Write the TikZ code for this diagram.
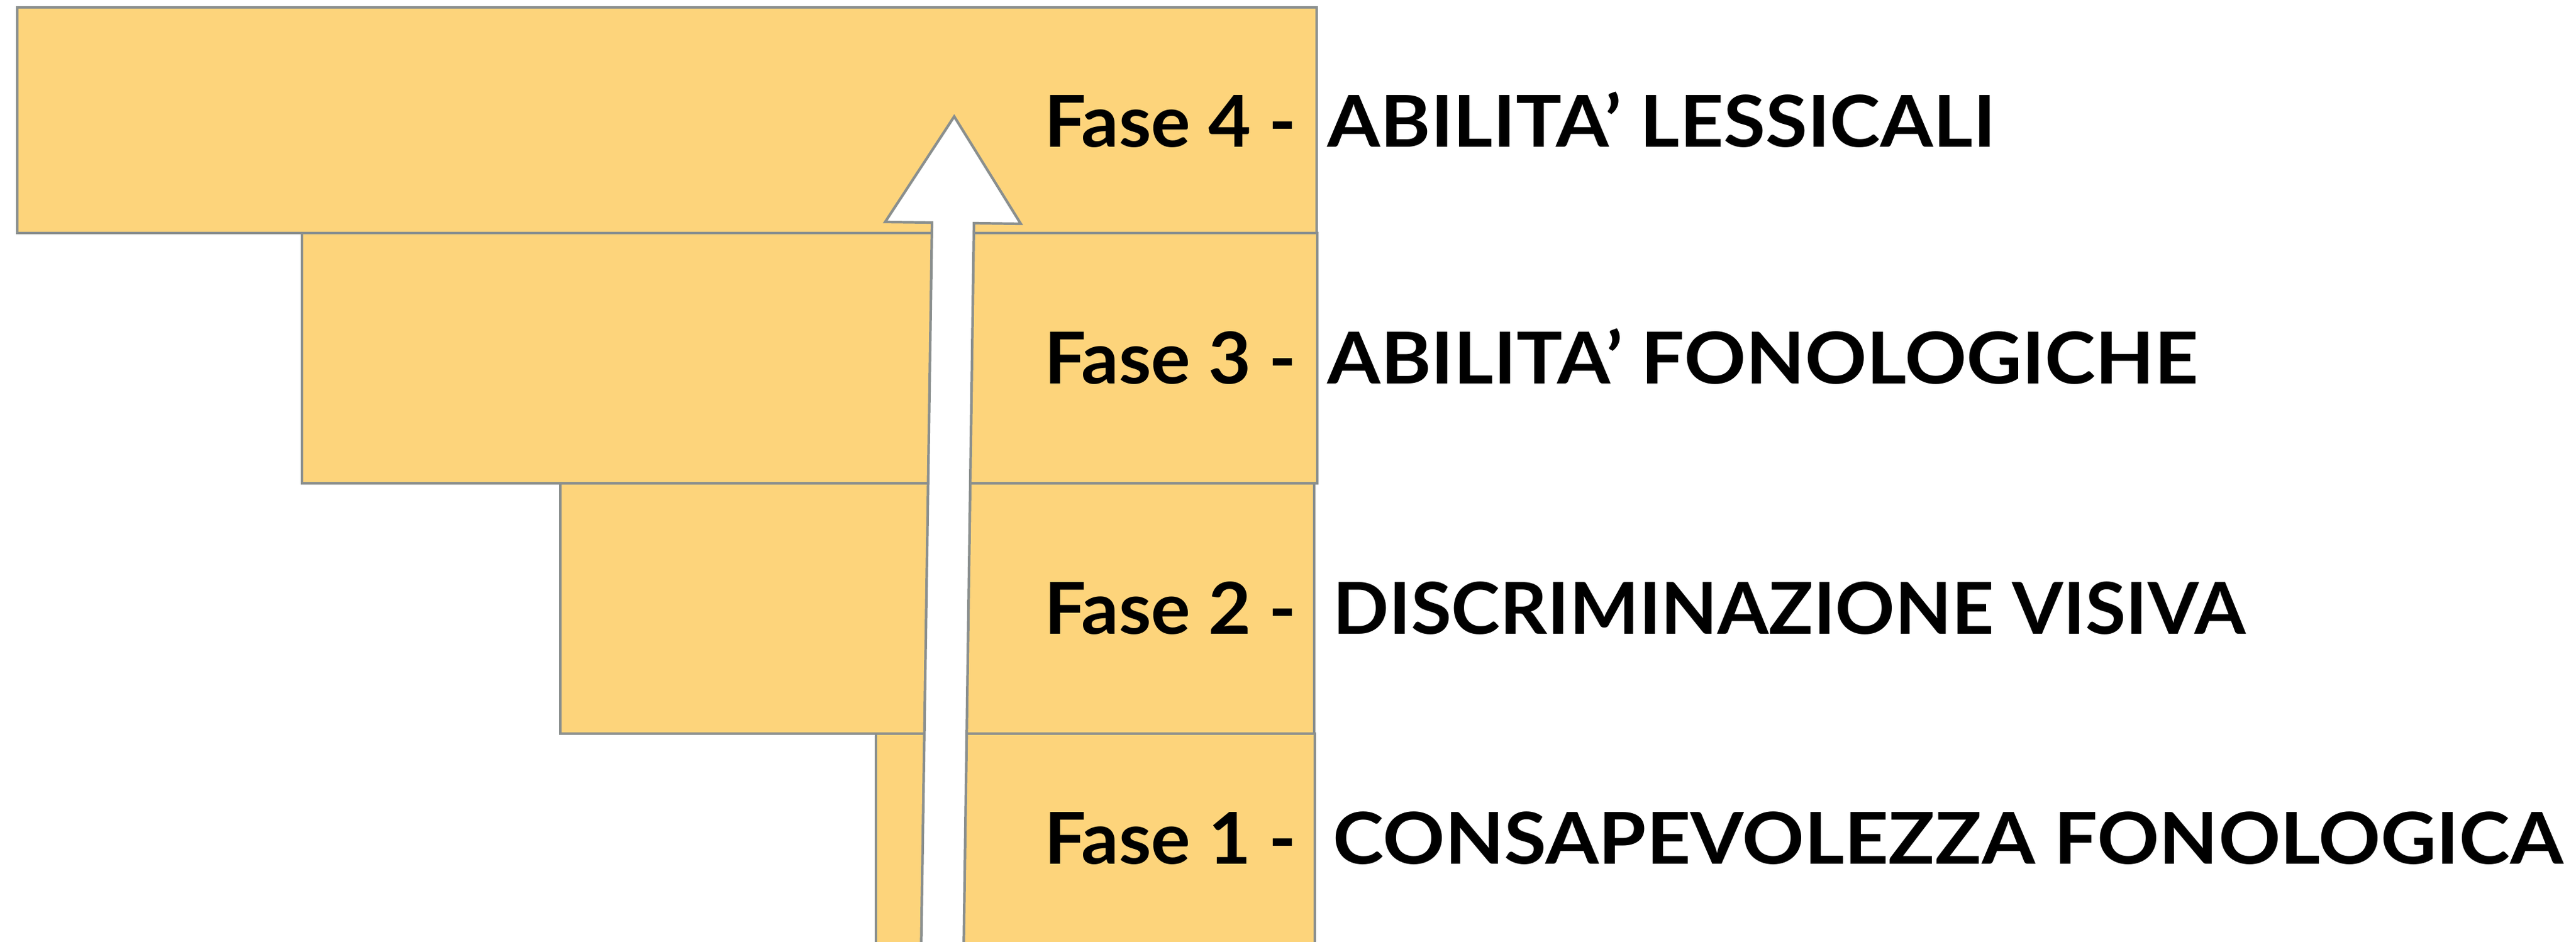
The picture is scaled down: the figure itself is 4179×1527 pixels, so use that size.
\documentclass[tikz,border=0pt]{standalone}
\usepackage{fontspec}
\setmainfont{Lato}
\definecolor{boxfill}{HTML}{FDD47B}
\definecolor{boxline}{HTML}{8A8F8E}
\newcommand{\sx}[2]{\scalebox{#1}[1]{#2}}
\begin{document}
\begin{tikzpicture}[x=0.01cm,y=-0.01cm,
  stepbox/.style={fill=boxfill,draw=boxline,line width=1.2pt},
  fase/.style={anchor=base west,inner sep=0pt,font=\fontsize{33}{36}\selectfont\bfseries},
  label/.style={anchor=base west,inner sep=0pt,font=\fontsize{33}{36}\selectfont\bfseries}]
\useasboundingbox (0,0) rectangle (4179,1527);
\begin{scope}
\clip (0,0) rectangle (4179,1527);
\draw[stepbox] (1421,1190) rectangle (2133,1560);
\draw[stepbox] (909,784) rectangle (2132,1190);
\draw[stepbox] (490,378) rectangle (2137,784);
\draw[stepbox] (28,12) rectangle (2136,378);
\draw[fill=white,draw=boxline,line width=1.2pt]
  (1494,1560) -- (1512,361) -- (1436,360) -- (1548,189) -- (1656,363) -- (1580,362) -- (1563,1560) -- cycle;
\end{scope}
\node[fase] (f4) at (1694,238) {\sx{1.03}{Fase 4 -}};
\node[fase] (f3) at (1694,622) {\sx{1.03}{Fase 3 -}};
\node[fase] (f2) at (1694,1028) {\sx{1.03}{Fase 2 -}};
\node[fase] (f1) at (1694,1401) {\sx{1.03}{Fase 1 -}};
\node[label] (l4) at (2153,238) {\sx{1.066}{ABILITA’ LESSICALI}};
\node[label] (l3) at (2153,622) {\sx{1.07}{ABILITA’ FONOLOGICHE}};
\node[label] (l2) at (2162,1028) {\sx{1.03}{DISCRIMINAZIONE VISIVA}};
\node[label] (l1) at (2162,1401) {\sx{1.075}{CONSAPEVOLEZZA FONOLOGICA}};
\end{tikzpicture}
\end{document}
